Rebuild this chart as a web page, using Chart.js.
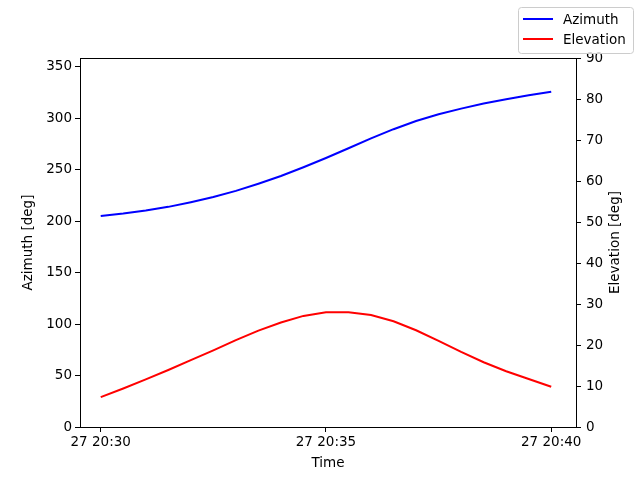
<!DOCTYPE html>
<html>
<head>
<meta charset="utf-8">
<script src="https://cdn.jsdelivr.net/npm/chart.js@4/dist/chart.umd.min.js"></script>
<style>
  body { margin: 0; background: #fff; }
</style>
</head>
<body>
<canvas id="plot" width="640" height="480"></canvas>
<script>
// minutes after 27 20:30
const minutes = [0, 0.5, 1, 1.5, 2, 2.5, 3, 3.5, 4, 4.5, 5, 5.5, 6, 6.5, 7, 7.5, 8, 8.5, 9, 9.5, 10];
const azimuth = [205, 207.5, 210.5, 214, 218.5, 223.5, 229.5, 236.5, 244, 252.5, 261.5, 271, 280.5, 289.5, 297.5, 304, 309.5, 314.5, 318.5, 322.5, 326];
const elevation = [7.3, 9.4, 11.6, 13.9, 16.3, 18.7, 21.2, 23.5, 25.5, 27.1, 28.0, 28.0, 27.3, 25.8, 23.6, 21.0, 18.3, 15.8, 13.6, 11.7, 9.8];
const timeTicks = [0, 5, 10];
const timeLabels = ["27 20:30", "27 20:35", "27 20:40"];
const azimuthTicks = [0, 50, 100, 150, 200, 250, 300, 350];
const elevationTitle = "Elevation [deg]";

const font = { family: "DejaVu Sans", size: 13.5 };
Chart.defaults.font = font;
Chart.defaults.color = "#000";

// box around the plot, right axis title (bottom-to-top like matplotlib) and legend
const framePlugin = {
  id: "frame",
  afterDraw(chart) {
    const ctx = chart.ctx;
    const a = chart.chartArea;
    ctx.save();
    ctx.strokeStyle = "#000";
    ctx.lineWidth = 1;
    ctx.strokeRect(a.left + 0.5, a.top + 0.5, a.right - a.left, a.bottom - a.top);

    ctx.font = font.size + "px " + font.family;
    ctx.fillStyle = "#000";
    ctx.save();
    ctx.translate(615, (a.top + a.bottom) / 2);
    ctx.rotate(-Math.PI / 2);
    ctx.textAlign = "center";
    ctx.textBaseline = "middle";
    ctx.fillText(elevationTitle, 0, 0);
    ctx.restore();

    // legend
    const x = 518, y = 7, w = 115, h = 46;
    ctx.fillStyle = "rgba(255,255,255,0.8)";
    ctx.strokeStyle = "#cccccc";
    ctx.beginPath();
    ctx.roundRect(x + 0.5, y + 0.5, w, h, 3);
    ctx.fill();
    ctx.stroke();
    chart.data.datasets.forEach((ds, i) => {
      const ly = y + 12 + i * 20;
      ctx.strokeStyle = ds.borderColor;
      ctx.lineWidth = 2;
      ctx.beginPath();
      ctx.moveTo(x + 5, ly);
      ctx.lineTo(x + 35, ly);
      ctx.stroke();
      ctx.fillStyle = "#000";
      ctx.textBaseline = "middle";
      ctx.fillText(ds.label, x + 45, ly + 1);
    });
    ctx.restore();
  },
};

const axisStyle = {
  grid: { drawOnChartArea: false, drawTicks: true, tickLength: 5, color: "#000" },
  border: { display: true, color: "#000" },
};

new Chart(document.getElementById("plot"), {
  type: "line",
  data: {
    datasets: [
      {
        label: "Azimuth",
        data: minutes.map((m, i) => ({ x: m, y: azimuth[i] })),
        borderColor: "#0000ff",
        borderWidth: 2,
        pointRadius: 0,
        yAxisID: "y",
      },
      {
        label: "Elevation",
        data: minutes.map((m, i) => ({ x: m, y: elevation[i] })),
        borderColor: "#ff0000",
        borderWidth: 2,
        pointRadius: 0,
        yAxisID: "y2",
      },
    ],
  },
  options: {
    responsive: false,
    animation: false,
    devicePixelRatio: 1,
    layout: { padding: { top: 58, left: 18, right: 0, bottom: 6 } },
    plugins: { legend: { display: false }, tooltip: { enabled: false } },
    scales: {
      x: {
        type: "linear",
        min: -0.46,
        max: 10.55,
        ...axisStyle,
        ticks: { padding: 2, maxRotation: 0, callback: (v) => timeLabels[timeTicks.indexOf(v)] },
        afterBuildTicks: (s) => { s.ticks = timeTicks.map((v) => ({ value: v })); },
        afterFit: (s) => { s.height = 47; },
        title: { display: true, text: "Time", padding: 2 },
      },
      y: {
        position: "left",
        min: 0,
        max: 358.7,
        ...axisStyle,
        ticks: { padding: 3 },
        afterBuildTicks: (s) => { s.ticks = azimuthTicks.map((v) => ({ value: v })); },
        afterFit: (s) => { s.width = 62; },
        title: { display: true, text: "Azimuth [deg]", padding: 2 },
      },
      y2: {
        position: "right",
        min: 0,
        max: 90,
        ...axisStyle,
        ticks: { stepSize: 10, padding: 5 },
        afterFit: (s) => { s.width = 64; },
      },
    },
  },
  plugins: [framePlugin],
});
</script>
</body>
</html>
